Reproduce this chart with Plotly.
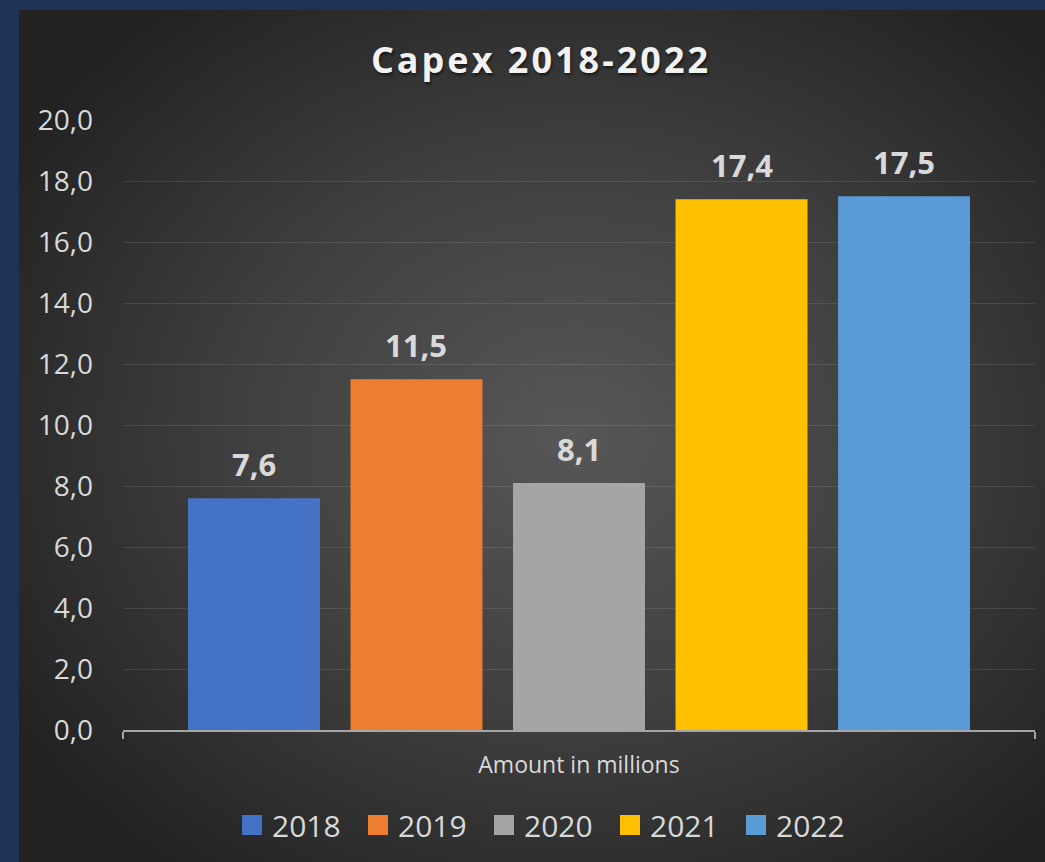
import base64
import plotly.graph_objects as go

# ---- data ----
years = ["2018", "2019", "2020", "2021", "2022"]
capex = [7.6, 11.5, 8.1, 17.4, 17.5]
bar_colors = ["#4472c4", "#ed7d31", "#a5a5a5", "#ffc000", "#5b9bd5"]
y_ticks = [0, 2, 4, 6, 8, 10, 12, 14, 16, 18, 20]
x_label = "Amount in millions"
title_text = "Capex 2018-2022"

# ---- layout constants ----
W, H = 1045, 862
ML, MR, MT, MB = 123, 10, 120, 132
PW, PH = W - ML - MR, H - MT - MB
FONT = "Open Sans"
TXT = "#d9d9d9"

# inner dark panel with radial gradient (background)
inner_x0, inner_y0 = 19, 10
iw, ih = W - inner_x0, H - inner_y0
svg = (
    f'<svg xmlns="http://www.w3.org/2000/svg" width="{iw}" height="{ih}" '
    f'viewBox="0 0 {iw} {ih}" preserveAspectRatio="none"><defs>'
    '<radialGradient id="g" cx="0.54" cy="0.5" r="0.64">'
    '<stop offset="0" stop-color="#575757"/>'
    '<stop offset="0.5" stop-color="#404040"/>'
    '<stop offset="1" stop-color="#222222"/>'
    '</radialGradient></defs>'
    f'<rect width="{iw}" height="{ih}" fill="url(#g)"/></svg>'
)
bg_src = "data:image/svg+xml;base64," + base64.b64encode(svg.encode()).decode()

x_pos = list(range(len(years)))

fig = go.Figure()
fig.add_trace(go.Bar(
    x=x_pos, y=capex,
    marker=dict(color=bar_colors, line=dict(width=0)),
    showlegend=False, hoverinfo="skip",
))

# legend proxies
for yr, c in zip(years, bar_colors):
    fig.add_trace(go.Scatter(
        x=[None], y=[None], mode="markers", name=yr,
        marker=dict(symbol="square", size=16, color=c, line=dict(width=4, color=c)),
        showlegend=True, hoverinfo="skip",
    ))

# data labels
for xi, v in zip(x_pos, capex):
    fig.add_annotation(
        x=xi, y=v, xref="x", yref="y",
        text=f"{v:.1f}".replace(".", ","),
        showarrow=False, yanchor="bottom", yshift=11,
        font=dict(family=FONT, size=31, color=TXT, weight="bold"),
    )

x_range = [-0.806, 4.806]

fig.update_layout(
    width=W, height=H,
    margin=dict(l=ML, r=MR, t=MT, b=MB, autoexpand=False),
    paper_bgcolor="#1d3456",
    plot_bgcolor="rgba(0,0,0,0)",
    separators=", ",
    bargap=0.188,
    title=dict(
        text=title_text, xref="container", yref="container",
        x=0.5177, xanchor="center", y=1 - 60 / H, yanchor="middle",
        font=dict(family=FONT, size=36, color="#f2f2f2", weight="bold",
                  shadow="1px 2px 3px rgba(0,0,0,0.6)"),
    ),
    xaxis=dict(
        range=x_range, tickmode="array", tickvals=x_range, ticktext=["", ""],
        ticks="outside", ticklen=7, tickwidth=2, tickcolor="#a6a6a6",
        showline=True, linecolor="#a6a6a6", linewidth=2,
        showgrid=False, zeroline=False, fixedrange=True,
        title=dict(text=x_label, standoff=16,
                   font=dict(family=FONT, size=23, color=TXT)),
    ),
    yaxis=dict(
        range=[0, 20], tickmode="array", tickvals=y_ticks, tickformat=".1f",
        showgrid=True, gridcolor="rgba(255,255,255,0.10)", gridwidth=1,
        zeroline=False, showline=False, ticks="", ticklabelstandoff=29,
        tickfont=dict(family=FONT, size=28, color=TXT), fixedrange=True,
    ),
    legend=dict(
        orientation="h", x=(547 - ML) / PW, xanchor="center",
        y=(730 - 825) / PH, yanchor="middle",
        font=dict(family=FONT, size=30, color=TXT),
        bgcolor="rgba(0,0,0,0)", itemsizing="trace", entrywidth=81,
    ),
    images=[dict(
        source=bg_src, xref="paper", yref="paper",
        x=(inner_x0 - ML) / PW, y=(730 - inner_y0) / PH,
        sizex=iw / PW, sizey=ih / PH, xanchor="left", yanchor="top",
        sizing="stretch", layer="below",
    )],
)

post = (
    "document.body.style.margin='0';"
    "document.querySelectorAll('.gtitle').forEach(function(e){e.style.letterSpacing='3px';});"
)
fig.write_html("out.html", post_script=post, config={"displayModeBar": False})
